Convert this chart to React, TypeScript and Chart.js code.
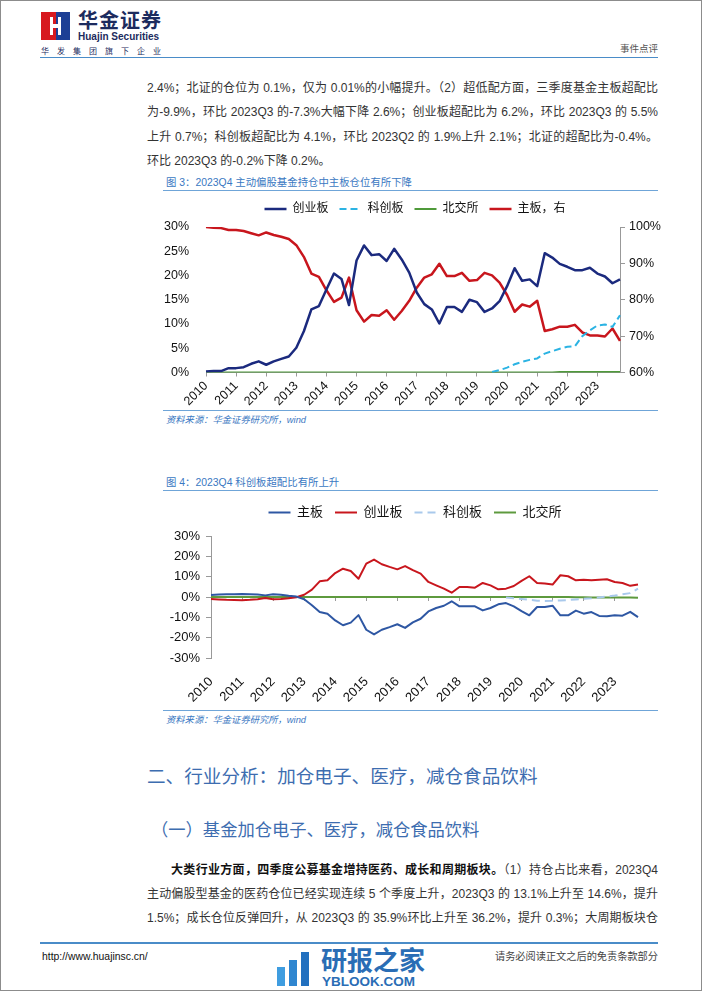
import React, { useEffect, useRef } from 'react';
import { Chart, registerables } from 'chart.js';

Chart.register(...registerables);

const FONT = '"Liberation Sans", Arial, "Noto Sans CJK SC", sans-serif';
Chart.defaults.font.family = FONT;
Chart.defaults.color = '#111';

// ---------- data ----------
const years = ['2010', '2011', '2012', '2013', '2014', '2015', '2016', '2017', '2018', '2019', '2020', '2021', '2022', '2023'];
const quarters = ['Q1', 'Q2', 'Q3', 'Q4'];
const categories = years.flatMap((y) => quarters.map((q) => y + q));

// 图3: 仓位 (%)
const cybShare = [0.2, 0.3, 0.3, 0.9, 0.9, 1.1, 1.8, 2.3, 1.6, 2.3, 2.8, 3.3, 5.1, 8.5, 13.0, 13.7, 17.1, 20.4, 19.3, 13.9, 23.1, 26.2, 24.2, 24.4, 23.0, 25.5, 23.3, 20.6, 16.5, 14.1, 13.0, 10.1, 13.5, 13.5, 12.5, 15.0, 14.5, 12.5, 13.2, 14.7, 17.8, 21.5, 18.9, 19.2, 17.8, 24.6, 23.7, 22.4, 21.8, 21.1, 21.1, 21.6, 20.4, 19.8, 18.4, 19.2];
const kcbShare = [null, null, null, null, null, null, null, null, null, null, null, null, null, null, null, null, null, null, null, null, null, null, null, null, null, null, null, null, null, null, null, null, null, null, null, null, null, null, 0.1, 0.5, 1.0, 1.7, 2.2, 2.6, 2.9, 3.9, 4.4, 4.9, 5.3, 5.4, 7.5, 8.7, 9.7, 9.9, 9.4, 11.8];
const bjsShare = [0, 0, 0, 0, 0, 0, 0, 0, 0, 0, 0, 0, 0, 0, 0, 0, 0, 0, 0, 0, 0, 0, 0, 0, 0, 0, 0, 0, 0, 0, 0, 0, 0, 0, 0, 0, 0, 0, 0, 0, 0, 0, 0, 0, 0, 0, 0, 0.1, 0.1, 0.1, 0.1, 0.1, 0.1, 0.1, 0.1, 0.1];
const mainShare = [100, 99.8, 99.7, 99.2, 99.2, 98.9, 98.3, 97.7, 98.5, 97.8, 97.3, 96.7, 95.0, 91.8, 87.2, 86.3, 82.6, 79.4, 80.6, 86.1, 77.1, 74.0, 75.8, 75.6, 77.1, 74.5, 76.9, 79.7, 83.3, 86.1, 87.0, 89.9, 86.5, 86.5, 87.4, 85.2, 85.4, 87.4, 86.7, 84.7, 81.3, 76.7, 78.7, 78.1, 79.7, 71.4, 71.9, 72.6, 72.6, 73.1, 71.0, 70.2, 70.2, 69.9, 72.1, 68.7];

// 图4: 超配比 (%)
const mainOver = [1.0, 1.2, 1.3, 1.4, 1.5, 1.4, 1.2, 0.8, 1.3, 1.1, 0.6, 0.2, -1.1, -4.1, -7.4, -8.2, -11.5, -13.9, -12.6, -8.9, -16.1, -18.4, -16.1, -14.8, -13.4, -15.2, -12.5, -10.7, -7.1, -5.4, -4.3, -2.1, -4.6, -4.6, -4.6, -6.6, -5.4, -3.6, -3.0, -4.6, -6.9, -9.0, -4.9, -4.9, -4.3, -9.0, -9.0, -6.7, -8.2, -7.4, -9.3, -9.5, -9.0, -9.2, -7.3, -9.9];
const cybOver = [-1.0, -1.2, -1.4, -1.5, -1.6, -1.4, -1.1, -0.5, -1.1, -1.0, -0.6, -0.1, 1.1, 3.6, 7.7, 8.2, 11.8, 13.9, 12.8, 9.0, 16.4, 18.4, 16.1, 14.8, 13.6, 15.2, 13.2, 11.5, 7.4, 5.7, 4.1, 2.1, 4.9, 4.9, 4.6, 6.9, 5.7, 3.8, 4.1, 5.4, 7.9, 10.2, 6.9, 6.6, 6.1, 10.7, 10.2, 8.2, 8.5, 8.2, 8.5, 8.7, 7.4, 6.9, 5.5, 6.2];
const kcbOver = [null, null, null, null, null, null, null, null, null, null, null, null, null, null, null, null, null, null, null, null, null, null, null, null, null, null, null, null, null, null, null, null, null, null, null, null, null, null, -0.2, -0.6, -1.0, -1.4, -1.8, -2.0, -1.9, -1.7, -1.5, -1.2, -0.9, -0.6, -0.2, 0.2, 0.7, 1.3, 1.9, 4.1];
const bjsOver = [0, 0, 0, 0, 0, 0, 0, 0, 0, 0, 0, 0, 0, 0, 0, 0, 0, 0, 0, 0, 0, 0, 0, 0, 0, 0, 0, 0, 0, 0, 0, 0, 0, 0, 0, 0, 0, 0, 0, 0, 0, 0, 0, 0, 0, 0, 0, -0.1, -0.1, -0.2, -0.2, -0.2, -0.2, -0.2, -0.2, -0.4];

// ---------- helpers ----------
const fixedLegendHeight = (h: number) => ({
  id: 'fixedLegendHeight',
  beforeInit(chart: any) {
    const legend = chart.legend;
    if (!legend) return;
    const orig = legend.fit;
    legend.fit = function () {
      orig.call(this);
      this.height = h;
    };
  },
});

const lineLegendLabels = (chart: any) =>
  chart.data.datasets.map((ds: any, i: number) => ({
    text: ds.label,
    strokeStyle: ds.borderColor,
    fillStyle: ds.borderColor,
    lineWidth: ds.borderWidth,
    lineDash: ds.borderDash || [],
    pointStyle: 'line',
    hidden: false,
    datasetIndex: i,
    fontColor: '#111',
  }));

const yearTick = (value: any) => (Number(value) % 4 === 0 ? years[Number(value) / 4] : null);

function ChartCanvas({ left, top, width, height, make }: any) {
  const ref = useRef<HTMLCanvasElement>(null);
  useEffect(() => {
    const chart = new Chart(ref.current as HTMLCanvasElement, make());
    return () => chart.destroy();
  }, []);
  return (
    <canvas
      ref={ref}
      width={width}
      height={height}
      style={{ position: 'absolute', left, top, width, height }}
    />
  );
}

const makeChart1 = (): any => ({
  type: 'line',
  data: {
    labels: categories,
    datasets: [
      { label: '创业板', data: cybShare, borderColor: '#1b2a7e', borderWidth: 2.5, yAxisID: 'y' },
      { label: '科创板', data: kcbShare, borderColor: '#2bb3e3', borderWidth: 2, borderDash: [7, 4], yAxisID: 'y' },
      { label: '北交所', data: bjsShare, borderColor: '#4f9a3a', borderWidth: 2, yAxisID: 'y' },
      { label: '主板，右', data: mainShare, borderColor: '#c8161d', borderWidth: 2.5, yAxisID: 'y1' },
    ],
  },
  options: {
    animation: false,
    responsive: false,
    maintainAspectRatio: false,
    elements: { point: { radius: 0 }, line: { tension: 0, borderJoinStyle: 'round' } },
    layout: { padding: 0 },
    plugins: {
      tooltip: { enabled: false },
      legend: {
        labels: {
          usePointStyle: true,
          pointStyleWidth: 22,
          boxHeight: 12,
          padding: 11,
          font: { size: 12 },
          color: '#111',
          generateLabels: lineLegendLabels,
        },
      },
    },
    scales: {
      x: {
        grid: { display: true, drawOnChartArea: false, drawTicks: true, tickLength: 4, color: '#999' },
        border: { display: true, color: '#999' },
        ticks: { autoSkip: false, minRotation: 45, maxRotation: 45, padding: 2, font: { size: 12.5 }, color: '#111', callback: yearTick },
        afterFit: (s: any) => { s.height = 36.5; },
      },
      y: {
        min: 0,
        max: 30,
        grid: { display: false },
        border: { display: false },
        ticks: { stepSize: 5, padding: 9, font: { size: 12.5 }, color: '#111', callback: (v: any) => v + '%' },
        afterFit: (s: any) => { s.width = 51; },
      },
      y1: {
        position: 'right',
        min: 60,
        max: 100,
        grid: { display: true, drawOnChartArea: false, tickLength: 5, color: '#999' },
        border: { display: true, color: '#999' },
        ticks: { stepSize: 10, padding: 4, font: { size: 12.5 }, color: '#111', callback: (v: any) => v + '%' },
        afterFit: (s: any) => { s.width = 55; },
      },
    },
  },
  plugins: [fixedLegendHeight(35)],
});

const makeChart2 = (): any => ({
  type: 'line',
  data: {
    labels: categories,
    datasets: [
      { label: '主板', data: mainOver, borderColor: '#2e57a3', borderWidth: 2 },
      { label: '创业板', data: cybOver, borderColor: '#c8161d', borderWidth: 2 },
      { label: '科创板', data: kcbOver, borderColor: '#a9c9ec', borderWidth: 2, borderDash: [8, 5] },
      { label: '北交所', data: bjsOver, borderColor: '#5e9a3e', borderWidth: 2 },
    ],
  },
  options: {
    animation: false,
    responsive: false,
    maintainAspectRatio: false,
    elements: { point: { radius: 0 }, line: { tension: 0, borderJoinStyle: 'round' } },
    layout: { padding: 0 },
    plugins: {
      tooltip: { enabled: false },
      legend: {
        labels: {
          usePointStyle: true,
          pointStyleWidth: 22,
          boxHeight: 13,
          padding: 12,
          font: { size: 13 },
          color: '#111',
          generateLabels: lineLegendLabels,
        },
      },
    },
    scales: {
      x: {
        grid: { display: false },
        border: { display: false },
        ticks: { autoSkip: false, minRotation: 45, maxRotation: 45, padding: 8, font: { size: 13 }, color: '#111', callback: yearTick },
        afterFit: (s: any) => { s.height = 47; },
      },
      x2: {
        type: 'category',
        position: { y: 0 },
        grid: { display: true, drawOnChartArea: false, drawTicks: true, tickLength: 4, color: '#999' },
        border: { display: false },
        ticks: { display: false, autoSkip: false, callback: yearTick },
      },
      y: {
        min: -30,
        max: 30,
        grid: { display: true, drawOnChartArea: false, tickLength: 5, color: '#999' },
        border: { display: true, color: '#999' },
        ticks: { stepSize: 10, padding: 6, font: { size: 13 }, color: '#111', callback: (v: any) => v + '%' },
        afterFit: (s: any) => { s.width = 61; },
      },
      yr: {
        position: 'right',
        display: true,
        grid: { display: false },
        border: { display: false },
        ticks: { display: false },
        afterFit: (s: any) => { s.width = 42; },
      },
    },
  },
  plugins: [fixedLegendHeight(42)],
});

// ---------- page pieces ----------
const abs = (s: any) => ({ position: 'absolute', ...s });

function TextLine({ center, left = 147, width = 511, children, last = false, style = {} }: any) {
  return (
    <div
      style={abs({
        top: center - 10.5,
        left,
        width,
        height: 21,
        lineHeight: '21px',
        fontSize: 12,
        color: '#333',
        textAlign: last ? 'left' : 'justify',
        textAlignLast: last ? 'left' : 'justify',
        ...style,
      })}
    >
      {children}
    </div>
  );
}

function Logo() {
  return (
    <div style={abs({ left: 41, top: 12, width: 29, height: 28 })}>
      <div style={abs({ left: 0, top: 0, width: 15, height: 28, background: '#d7191f' })} />
      <div style={abs({ left: 15, top: 0, width: 14, height: 28, background: '#1d3f95' })} />
      <div style={abs({ left: 9, top: 5, width: 3, height: 18, background: '#fff' })} />
      <div style={abs({ left: 17, top: 5, width: 3, height: 18, background: '#fff' })} />
      <div style={abs({ left: 9, top: 12, width: 11, height: 4, background: '#fff' })} />
    </div>
  );
}

export default function App() {
  const blue = '#3a78c2';
  return (
    <div style={abs({ left: 0, top: 0, width: 702, height: 991, background: '#fff', overflow: 'hidden', fontFamily: FONT })}>
      <div style={abs({ left: 0, top: 0, width: 702, height: 991, boxSizing: 'border-box', border: '1px solid #8c8c8c' })} />

      {/* header */}
      <Logo />
      <div style={abs({ left: 78, top: 9, fontSize: 20, fontWeight: 700, letterSpacing: 1, color: '#1c2b5e', lineHeight: '24px', whiteSpace: 'nowrap' })}>华金证券</div>
      <div style={abs({ left: 78, top: 31, fontSize: 10, fontWeight: 600, color: '#1c2b5e', lineHeight: '12px', whiteSpace: 'nowrap' })}>Huajin Securities</div>
      <div style={abs({ left: 41, top: 45.5, fontSize: 8, letterSpacing: 8, color: '#1c2b5e', lineHeight: '11px', whiteSpace: 'nowrap' })}>华发集团旗下企业</div>
      <div style={abs({ right: 44, top: 43, fontSize: 9.5, color: '#555', lineHeight: '12px', whiteSpace: 'nowrap' })}>事件点评</div>
      <div style={abs({ left: 40, top: 56.5, width: 618, height: 1.5, background: '#4a8cc8' })} />

      {/* paragraph 1 */}
      <TextLine center={88.5}>2.4%；北证的仓位为 0.1%，仅为 0.01%的小幅提升。（2）超低配方面，三季度基金主板超配比</TextLine>
      <TextLine center={112.8}>为-9.9%，环比 2023Q3 的-7.3%大幅下降 2.6%；创业板超配比为 6.2%，环比 2023Q3 的 5.5%</TextLine>
      <TextLine center={137.1}>上升 0.7%；科创板超配比为 4.1%，环比 2023Q2 的 1.9%上升 2.1%；北证的超配比为-0.4%。</TextLine>
      <TextLine center={161.4} last>环比 2023Q3 的-0.2%下降 0.2%。</TextLine>

      {/* figure 3 */}
      <div style={abs({ left: 166, top: 176, fontSize: 10.4, color: blue, lineHeight: '13px', whiteSpace: 'nowrap' })}>图 3：2023Q4 主动偏股基金持仓中主板仓位有所下降</div>
      <div style={abs({ left: 163, top: 190, width: 495, height: 1, background: '#6fa5d8' })} />
      <ChartCanvas left={155} top={192} width={520} height={217} make={makeChart1} />
      <div style={abs({ left: 163, top: 410, width: 495, height: 1, background: '#6fa5d8' })} />
      <div style={abs({ left: 166, top: 414, fontSize: 9.3, fontStyle: 'italic', color: blue, lineHeight: '12px', whiteSpace: 'nowrap' })}>资料来源：华金证券研究所，wind</div>

      {/* figure 4 */}
      <div style={abs({ left: 166, top: 476, fontSize: 10.4, color: blue, lineHeight: '13px', whiteSpace: 'nowrap' })}>图 4：2023Q4 科创板超配比有所上升</div>
      <div style={abs({ left: 163, top: 490, width: 495, height: 1, background: '#6fa5d8' })} />
      <ChartCanvas left={150} top={494} width={530} height={211} make={makeChart2} />
      <div style={abs({ left: 163, top: 710, width: 495, height: 1, background: '#6fa5d8' })} />
      <div style={abs({ left: 166, top: 713.5, fontSize: 9.3, fontStyle: 'italic', color: blue, lineHeight: '12px', whiteSpace: 'nowrap' })}>资料来源：华金证券研究所，wind</div>

      {/* headings */}
      <div style={abs({ left: 147, top: 764, fontSize: 18.6, color: '#3d6db0', lineHeight: '26px', whiteSpace: 'nowrap' })}>二、行业分析：加仓电子、医疗，减仓食品饮料</div>
      <div style={abs({ left: 151, top: 818, fontSize: 17.3, color: '#3d6db0', lineHeight: '24px', whiteSpace: 'nowrap' })}>（一）基金加仓电子、医疗，减仓食品饮料</div>

      {/* paragraph 2 */}
      <TextLine center={870.5} left={171} width={487}>
        <b style={{ color: '#111' }}>大类行业方面，四季度公募基金增持医药、成长和周期板块。</b>（1）持仓占比来看，2023Q4
      </TextLine>
      <TextLine center={894.5}>主动偏股型基金的医药仓位已经实现连续 5 个季度上升，2023Q3 的 13.1%上升至 14.6%，提升</TextLine>
      <TextLine center={918.5}>1.5%；成长仓位反弹回升，从 2023Q3 的 35.9%环比上升至 36.2%，提升 0.3%；大周期板块仓</TextLine>

      {/* footer */}
      <div style={abs({ left: 40, top: 942, width: 618, height: 2, background: '#4a8cc8' })} />
      <div style={abs({ left: 42, top: 950, fontSize: 10.4, color: '#111', lineHeight: '13px', whiteSpace: 'nowrap' })}>http://www.huajinsc.cn/</div>
      <div style={abs({ right: 44, top: 950, fontSize: 10.2, color: '#444', lineHeight: '13px', whiteSpace: 'nowrap' })}>请务必阅读正文之后的免责条款部分</div>

      {/* watermark */}
      <div style={abs({ left: 277, top: 967, width: 8, height: 19, background: '#3f9de0' })} />
      <div style={abs({ left: 289, top: 960, width: 8, height: 26, background: '#2f86d0' })} />
      <div style={abs({ left: 301, top: 952, width: 8, height: 34, background: '#2270bf' })} />
      <div style={abs({ left: 321, top: 946, fontSize: 26, fontWeight: 700, color: '#2a6db5', lineHeight: '30px', whiteSpace: 'nowrap' })}>研报之家</div>
      <div style={abs({ left: 322, top: 975, fontSize: 13.5, fontWeight: 700, color: '#2a6db5', lineHeight: '14px', whiteSpace: 'nowrap' })}>YBLOOK.COM</div>
    </div>
  );
}
